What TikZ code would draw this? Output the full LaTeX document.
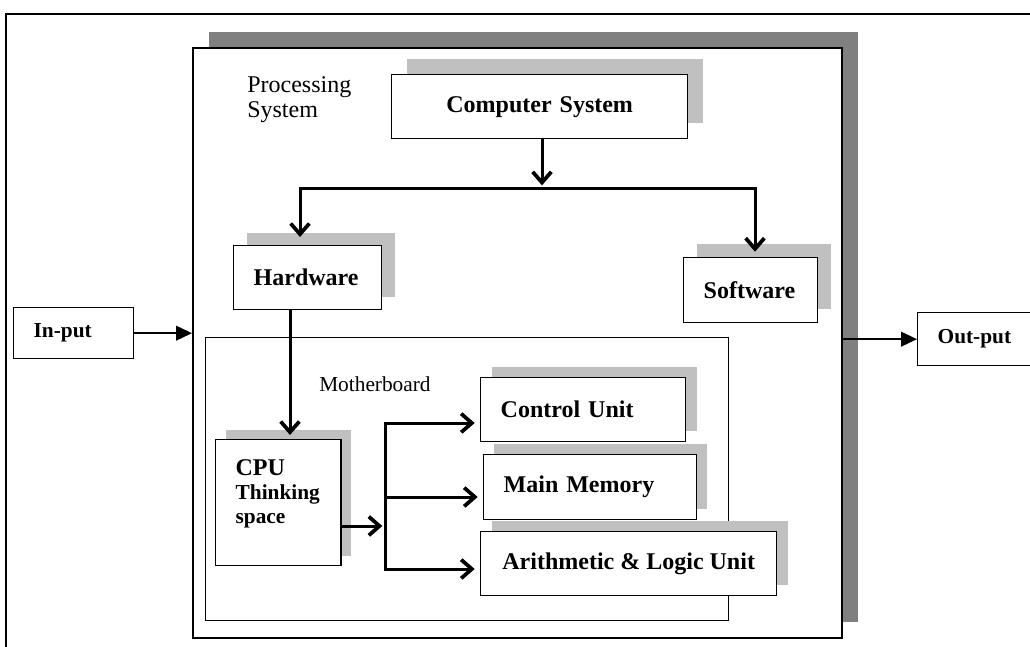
\documentclass[tikz,border=0pt]{standalone}
\usepackage{fontspec}
\setmainfont{Liberation Serif}
\usetikzlibrary{arrows.meta, positioning, shadows}

\definecolor{lightshade}{HTML}{C0C0C0}
\definecolor{darkshade}{HTML}{808080}

\begin{document}
\begin{tikzpicture}[
    x=0.75pt, y=-0.75pt,
    block/.style={
        rectangle, draw=black, line width=1pt, fill=white,
        anchor=north west, inner xsep=15pt, inner ysep=0pt, align=left,
        font=\fontsize{18}{19}\selectfont\bfseries
    },
    smallblock/.style={block, font=\fontsize{16}{18}\selectfont\bfseries},
    boxshadow/.style={drop shadow={shadow xshift=#1, shadow yshift=#1,
        fill=lightshade, opacity=1}},
    framebox/.style={
        rectangle, draw=black, line width=1.5pt, fill=white,
        anchor=north west, inner sep=0pt
    },
    plainlabel/.style={anchor=north west, inner sep=0pt, align=left},
    arrow/.style={-{Straight Barb[length=8pt, width=14pt, line width=2.8pt]}, line width=2.25pt},
    twoarrow/.style={arrow, {Straight Barb[length=8pt, width=14pt, line width=2.8pt]}-{Straight Barb[length=8pt, width=14pt, line width=2.8pt]}},
    ioarrow/.style={-{Triangle[length=12pt, width=11pt]}, line width=1.5pt}
]
\useasboundingbox (0,0) rectangle (1030,646);
\clip (0,0) rectangle (1030,646);

% outer frame
\draw[line width=1.5pt] (6,660) -- (6,14) -- (1045,14);

% processing system
\node[framebox, minimum width=486.75pt, minimum height=442.5pt,
      drop shadow={shadow xshift=12pt, shadow yshift=12pt, fill=darkshade, opacity=1}]
      (procframe) at (192,47) {};
\node[plainlabel, font=\fontsize{18}{18.75}\selectfont] (proclabel) at (247,76) {Processing\\System};

\node[block, boxshadow=11.5pt, text width=192pt, align=center, minimum height=48pt]
      (compsys) at (391,74) {Computer System};
\node[block, boxshadow=9.75pt, text width=81pt, minimum height=48pt]
      (hardware) at (233,245) {Hardware};
\node[block, boxshadow=10pt, text width=70.5pt, minimum height=48.75pt]
      (software) at (683,257) {Software};

% motherboard
\node[framebox, line width=1pt, minimum width=392.25pt, minimum height=212.25pt]
      (mboard) at (205,337) {};
\node[plainlabel, font=\fontsize{16}{18}\selectfont] (mblabel) at (319,376) {Motherboard};

\node[smallblock, boxshadow=7.5pt, text width=64pt, minimum height=94.5pt, text depth=52.5pt]
      (cpu) at (215,439) {{\fontsize{18}{18}\selectfont CPU}\\Thinking\\space};
\node[block, boxshadow=8.25pt, text width=123.75pt, minimum height=48pt]
      (ctrlunit) at (480,377) {Control Unit};
\node[block, boxshadow=8pt, text width=129.75pt, minimum height=48.75pt]
      (mainmem) at (483,454) {Main Memory};
\node[block, boxshadow=8.25pt, minimum width=222pt, minimum height=48pt]
      (alu) at (480,531) {Arithmetic \& Logic Unit};

% input and output
\node[smallblock, text width=60pt, minimum height=38.25pt] (inputbox) at (13,307) {In-put};
\node[smallblock, text width=60pt, minimum height=39.75pt] (outputbox) at (917,312) {Out-put};

% connectors
\coordinate (csout) at (542,188);
\coordinate (hwin) at (300,188);
\coordinate (swin) at (755,188);
\coordinate (hwout) at (290,309);
\coordinate (forkin) at (385,526);
\coordinate (forktop) at (385,423);
\coordinate (forkmid) at (385,497);
\coordinate (forkbot) at (385,569);

\draw[arrow, shorten >=2pt] (compsys.south -| csout) -- (csout);
\draw[twoarrow, shorten <=6pt, shorten >=4pt]
    (hardware.north -| hwin) -- (hwin) -- (swin) -- (software.north -| swin);
\draw[arrow, shorten >=3pt] (hardware.south -| hwout) -- (cpu.north -| hwout);
\draw[arrow, shorten >=2pt] (cpu.east |- forkin) -- (forkin);
\draw[twoarrow, shorten <=4pt, shorten >=4pt]
    (forktop -| ctrlunit.west) -- (forktop) -- (forkbot) -- (forkbot -| alu.west);
\draw[arrow, shorten >=4pt] (forkmid) -- (forkmid -| mainmem.west);

\draw[ioarrow] (inputbox.east) -- (inputbox.east -| procframe.west);
\draw[ioarrow] (procframe.east |- outputbox.west) -- (outputbox.west);

\end{tikzpicture}
\end{document}
